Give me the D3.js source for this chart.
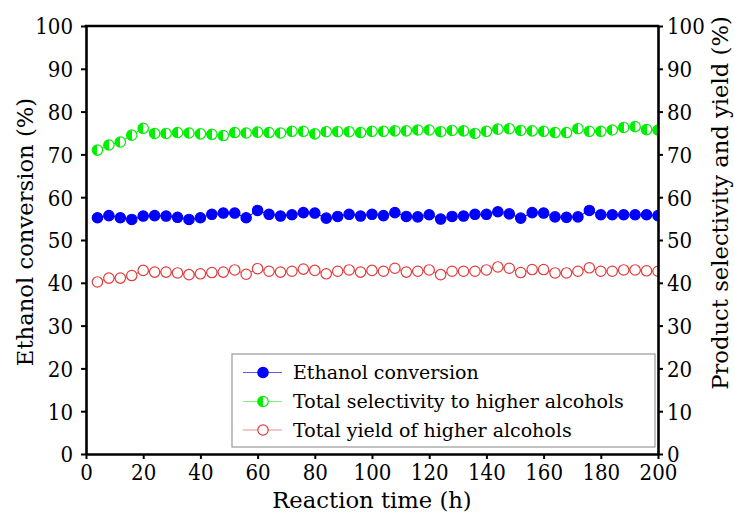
<!DOCTYPE html>
<html>
<head>
<meta charset="utf-8">
<script src="https://cdn.jsdelivr.net/npm/d3@7"></script>
<style>
  html, body { margin: 0; padding: 0; background: #fff; }
</style>
</head>
<body>
<svg id="chart" width="734" height="518"></svg>
<script>
// Reaction time (h), sampled every 4 h
const hours = d3.range(4, 201, 4);

// Ethanol conversion (%)
const conversion = [
  55.2, 55.7, 55.2, 54.8, 55.6, 55.7, 55.6, 55.3, 54.8, 55.2,
  56.0, 56.3, 56.3, 55.2, 56.9, 56.0, 55.6, 55.9, 56.4, 56.3,
  55.1, 55.5, 56.0, 55.6, 56.0, 55.7, 56.4, 55.5, 55.4, 55.9,
  54.9, 55.5, 55.6, 56.0, 56.0, 56.6, 56.1, 55.1, 56.4, 56.3,
  55.4, 55.3, 55.4, 56.9, 55.9, 55.9, 55.9, 55.9, 55.9, 55.7
];

// Total selectivity to higher alcohols (%)
const selectivity = [
  71.0, 72.2, 72.9, 74.5, 76.1, 74.9, 74.9, 75.1, 75.0, 74.8,
  74.7, 74.4, 75.1, 75.0, 75.2, 75.1, 75.0, 75.4, 75.4, 74.8,
  75.3, 75.3, 75.3, 75.1, 75.4, 75.4, 75.5, 75.5, 75.7, 75.7,
  75.3, 75.6, 75.5, 74.9, 75.4, 75.9, 76.0, 75.6, 75.5, 75.4,
  75.1, 75.1, 76.0, 75.4, 75.4, 75.7, 76.3, 76.5, 75.8, 75.7
];

// Total yield of higher alcohols (%)
const yieldHA = [
  40.2, 41.1, 41.1, 41.7, 42.9, 42.5, 42.5, 42.3, 41.9, 42.1,
  42.4, 42.5, 43.0, 42.0, 43.3, 42.7, 42.5, 42.7, 43.2, 42.9,
  42.1, 42.7, 43.0, 42.5, 42.9, 42.7, 43.4, 42.5, 42.7, 43.0,
  41.9, 42.7, 42.7, 42.7, 43.0, 43.7, 43.4, 42.4, 43.1, 43.1,
  42.3, 42.3, 42.7, 43.5, 42.7, 42.7, 43.0, 43.0, 42.8, 42.7
];

const xTicks = d3.range(0, 201, 20);
const yTicks = d3.range(0, 101, 10);

const seriesNames = [
  "Ethanol conversion",
  "Total selectivity to higher alcohols",
  "Total yield of higher alcohols"
];

const SERIF = "DejaVu Serif";
const SERIF_NARROW = "'DejaVu Serif Condensed', 'DejaVu Serif'";

const svg = d3.select("#chart");
const margin = { left: 86, right: 76, top: 26, bottom: 64 };
const W = 734, H = 518;
const x = d3.scaleLinear().domain([0, 200]).range([margin.left, W - margin.right]);
const yL = d3.scaleLinear().domain([0, 100]).range([H - margin.bottom, margin.top]);
const yR = d3.scaleLinear().domain([0, 100]).range([H - margin.bottom, margin.top]);

const blue = "#0000ff", green = "#00ee00", red = "#e23b3b";

// clip marks to the plotting frame
svg.append("clipPath").attr("id", "plotClip")
  .append("rect")
  .attr("x", x(0)).attr("y", yL(100))
  .attr("width", x(200) - x(0)).attr("height", yL(0) - yL(100));

const plot = svg.append("g").attr("clip-path", "url(#plotClip)");

// half-filled marker gradient
const defs = svg.append("defs");
const grad = defs.append("linearGradient").attr("id", "halfGreen")
  .attr("x1", "0").attr("x2", "1").attr("y1", "0").attr("y2", "0");
grad.append("stop").attr("offset", "50%").attr("stop-color", green);
grad.append("stop").attr("offset", "50%").attr("stop-color", "#fff");

const line = (ys, yScale) => d3.line()
  .x((d, i) => x(hours[i]))
  .y(d => yScale(d))(ys);

const series = [
  { vals: conversion, scale: yL, stroke: blue, fill: blue },
  { vals: selectivity, scale: yR, stroke: green, fill: "url(#halfGreen)" },
  { vals: yieldHA, scale: yR, stroke: red, fill: "#fff" }
];

series.forEach(s => {
  plot.append("path")
    .attr("d", line(s.vals, s.scale))
    .attr("fill", "none")
    .attr("stroke", s.stroke)
    .attr("stroke-width", 1);
  plot.selectAll(null).data(s.vals).enter().append("circle")
    .attr("cx", (d, i) => x(hours[i]))
    .attr("cy", d => s.scale(d))
    .attr("r", 5.2)
    .attr("fill", s.fill)
    .attr("stroke", s.stroke)
    .attr("stroke-width", 1.2);
});

// Axes
const TICK_FS = 22;
const axisStyle = g => {
  g.attr("font-family", null).attr("font-size", null);
  g.selectAll("path.domain").attr("stroke", "#000").attr("stroke-width", 2.6);
  g.selectAll(".tick line").attr("stroke", "#000").attr("stroke-width", 2);
  g.selectAll(".tick text").style("font-family", SERIF_NARROW)
    .attr("font-size", TICK_FS).attr("fill", "#000");
};

svg.append("g")
  .attr("transform", `translate(0,${yL(0)})`)
  .call(d3.axisBottom(x).tickValues(xTicks).tickSize(5).tickSizeOuter(0).tickPadding(5))
  .call(axisStyle);

svg.append("g")
  .attr("transform", `translate(${x(0)},0)`)
  .call(d3.axisLeft(yL).tickValues(yTicks).tickSize(5).tickSizeOuter(0).tickPadding(8))
  .call(axisStyle)
  .call(g => g.selectAll(".tick text").attr("dy", "0.36em"));

svg.append("g")
  .attr("transform", `translate(${x(200)},0)`)
  .call(d3.axisRight(yR).tickValues(yTicks).tickSize(5).tickSizeOuter(0).tickPadding(4))
  .call(axisStyle)
  .call(g => g.selectAll(".tick text").attr("dy", "0.36em"));

// top frame
svg.append("line")
  .attr("x1", x(0) - 1.3).attr("x2", x(200) + 1.3)
  .attr("y1", yL(100)).attr("y2", yL(100))
  .attr("stroke", "#000").attr("stroke-width", 2.6);

// Axis titles
const title = sel => sel.style("font-family", SERIF).attr("font-size", 22.7)
  .attr("text-anchor", "middle").attr("fill", "#000");

svg.append("text")
  .attr("x", x(100)).attr("y", 508)
  .call(title)
  .text("Reaction time (h)");

svg.append("text")
  .attr("transform", `translate(33,232) rotate(-90)`)
  .call(title)
  .text("Ethanol conversion (%)");

svg.append("text")
  .attr("transform", `translate(728,203) rotate(-90)`)
  .call(title)
  .text("Product selectivity and yield (%)");

// Legend
const legend = svg.append("g");
legend.append("rect")
  .attr("x", 232).attr("y", 354).attr("width", 423).attr("height", 93)
  .attr("fill", "#fff").attr("stroke", "#999").attr("stroke-width", 1.2);

const legendMarks = [
  { stroke: blue, fill: blue, line: "#5a5ae6" },
  { stroke: green, fill: "url(#halfGreen)", line: "#7cf07c" },
  { stroke: red, fill: "#fff", line: "#ec8a8a" }
];
const rowY = [372.5, 401.5, 430];
seriesNames.forEach((name, i) => {
  const g = legend.append("g").attr("transform", `translate(0,${rowY[i]})`);
  g.append("line").attr("x1", 243).attr("x2", 282).attr("y1", 0).attr("y2", 0)
    .attr("stroke", legendMarks[i].line).attr("stroke-width", 1);
  g.append("circle").attr("cx", 263).attr("cy", 0).attr("r", 5.2)
    .attr("fill", legendMarks[i].fill).attr("stroke", legendMarks[i].stroke).attr("stroke-width", 1.2);
  g.append("text").attr("x", 293).attr("y", 0).attr("dy", "0.36em")
    .style("font-family", SERIF).attr("font-size", 19).attr("fill", "#000").text(name);
});
</script>
</body>
</html>
